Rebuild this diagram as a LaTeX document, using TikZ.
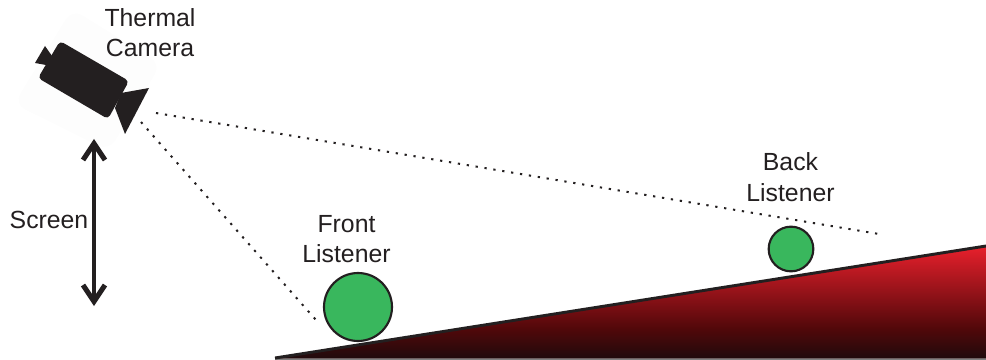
\documentclass[tikz,border=0pt]{standalone}
\usepackage{fontspec}
\setmainfont{Liberation Sans}
\definecolor{inkc}{HTML}{231F20}
\definecolor{greenc}{HTML}{39B75D}
\tikzset{
  lab/.style={font=\fontsize{18.6}{22}\selectfont, text=inkc, inner sep=0pt, anchor=base, align=center},
  sightline/.style={draw=inkc, line width=1.5pt, dash pattern=on 1.7pt off 5.05pt},
  listener/.style={draw=inkc, fill=greenc, line width=1.6pt, circle, inner sep=0pt},
}
\begin{document}
\begin{tikzpicture}[x=0.75pt,y=-0.75pt]
\useasboundingbox (0,0) rectangle (986,360);
% faint backing square of the camera image
\fill[black!0.7, rounded corners=9pt] (72,9) -- (161,64) -- (109,151) -- (14,104) -- cycle;
% wedge
\begin{scope}
  \clip (275,358) -- (986,246) -- (986,358.5) -- (275,358.5) -- cycle;
  \shade[top color={rgb,255:red,232;green,32;blue,44}, bottom color={rgb,255:red,82;green,8;blue,10}] (275,246) rectangle (986,328);
  \shade[top color={rgb,255:red,82;green,8;blue,10}, bottom color={rgb,255:red,32;green,10;blue,12}] (275,328) rectangle (986,358.5);
\end{scope}
\coordinate (wedgeL) at (275,358);
\coordinate (wedgeR) at (986,246);
\coordinate (wedgeC) at (986,359.3);
\draw[gray, line width=0.6pt] (wedgeL|-wedgeC) -- (wedgeC);
\draw[inkc, line width=2.2pt] (wedgeL) -- (wedgeR);
% camera
\fill[inkc, rounded corners=3pt] (60,41) -- (129,81) -- (108,119) -- (38,78) -- cycle;
\fill[inkc] (121,93) -- (149,88) -- (125,134) -- (115,108) -- cycle;
\fill[inkc] (45,46) -- (52,56) -- (47,73) -- (46,65) -- (35,63) -- cycle;
% circles
\node[listener, minimum size=51pt] (front) at (358,307) {};
\node[listener, minimum size=33.5pt] (back) at (791,249) {};
% sight lines
\coordinate (camA) at (156,113);
\coordinate (farA) at (879,234);
\coordinate (camB) at (141,122);
\coordinate (farB) at (316,320);
\draw[sightline] (camA) -- (farA);
\draw[sightline] (camB) -- (farB);
% screen arrow
\coordinate (scrT) at (94,143);
\coordinate (scrB) at (94,302);
\draw[inkc, line width=3.7pt] (scrT) -- (scrB);
\draw[inkc, line width=3.8pt, miter limit=10] (83,160) -- (94,143.5) -- (105,160);
\draw[inkc, line width=3.8pt, miter limit=10] (83,285) -- (94,301.5) -- (105,285);
% labels
\node[lab] (t1) at (150,27) {Thermal};
\node[lab] (t2) at (150,57) {Camera};
\node[lab] (s) at (49,228) {Screen};
\node[lab] (f1) at (346.5,232) {Front};
\node[lab] (f2) at (346.5,262) {Listener};
\node[lab] (b1) at (790.5,171) {Back};
\node[lab] (b2) at (790.5,201) {Listener};
\end{tikzpicture}
\end{document}
